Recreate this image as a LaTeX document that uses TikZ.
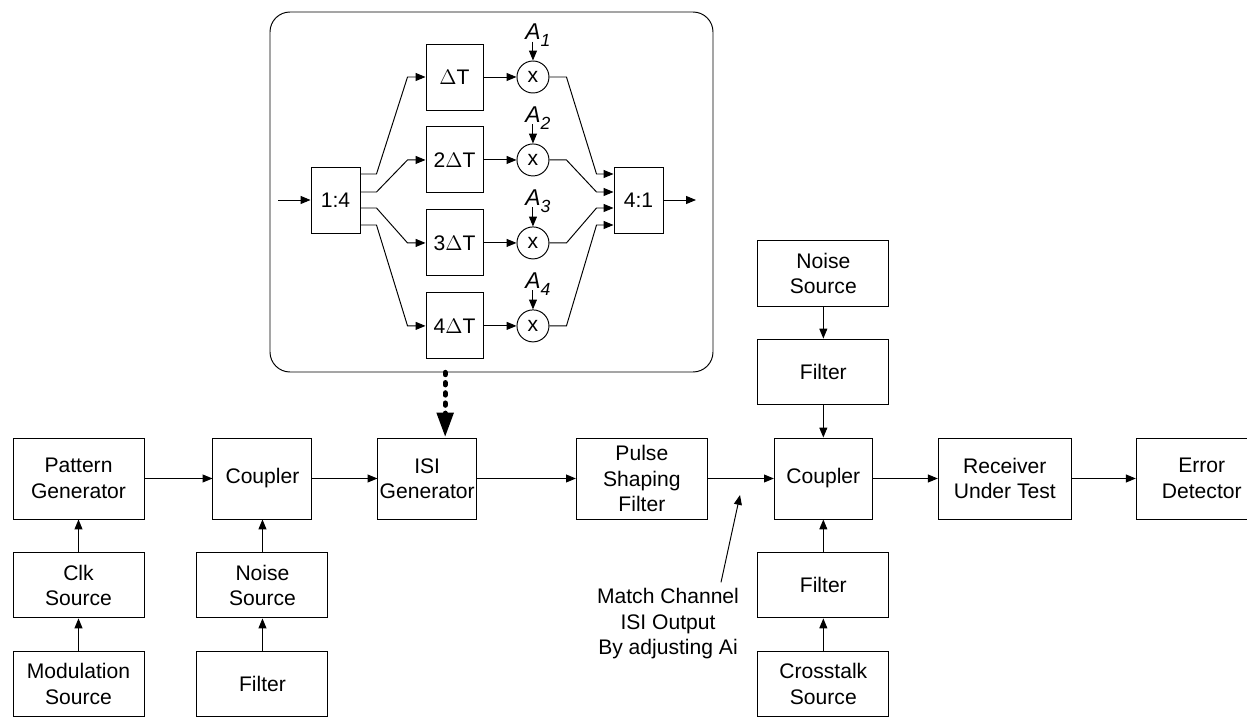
\documentclass[tikz,border=0pt]{standalone}
\usepackage{fontspec}
\setmainfont{Liberation Sans}
\usetikzlibrary{positioning,arrows.meta}

\begin{document}
\begin{tikzpicture}[font=\fontsize{12}{14.5}\selectfont, line width=0.55pt, align=center, node distance=0.65cm]
   \tikzset{arr/.style = {-{Triangle[length=5.6pt,width=4.5pt]}}, }
   \tikzset{dotarr/.style = {line width=3pt, line cap=round, dash pattern=on 1.2pt off 4.6pt, -{Triangle[length=0.5cm,width=0.32cm]}}, }
   \tikzset{block/.style = {rectangle, draw, text centered, minimum width=2.62cm, minimum height=1.62cm, inner sep=1pt}, }
   \tikzset{smallblock/.style = {block, minimum height=1.31cm}, }
   \tikzset{delay/.style = {rectangle, draw, minimum width=1.14cm, minimum height=1.32cm, inner sep=1pt}, }
   \tikzset{mux/.style = {delay, minimum width=0.98cm}, }
   \tikzset{mult/.style = {circle, draw, minimum size=0.64cm, inner sep=0pt}, }
   \tikzset{alabel/.style = {anchor=base west, inner sep=0pt, font=\fontsize{13}{15}\selectfont\itshape}, }
   \useasboundingbox (0,0) rectangle (24.94,-14.36);

   % ISI generator detail
   \node[draw, rounded corners=0.4cm, minimum width=8.86cm, minimum height=7.2cm, inner sep=0pt] (inset) at (9.83,-3.84) {};
   \node[mux] (split) at (6.71,-4.00) {1:4};
   \node[mux] (merge) at (12.77,-4.00) {4:1};
   \coordinate (in) at (5.56,-4.00);
   \coordinate (out) at (13.92,-4.00);
   \node[delay] (d1) at (9.09,-1.54) {$\Delta$T};
   \node[delay, below=0.32cm of d1] (d2) {2$\Delta$T};
   \node[delay, below=0.32cm of d2] (d3) {3$\Delta$T};
   \node[delay, below=0.32cm of d3] (d4) {4$\Delta$T};
   \foreach \i in {1,...,4} {
     \node[mult, right=0.66cm of d\i] (m\i) {x};
     \coordinate (t\i) at ([yshift=0.38cm]m\i.north);
     \node[alabel] (a\i) at ([xshift=-0.16cm,yshift=0.04cm]t\i) {A\raisebox{-4pt}{\fontsize{10}{12}\selectfont\i}};
     \draw[arr] (t\i) -- (m\i);
     \draw[arr] (d\i) -- (m\i);
   }
   \draw[arr] (in) -- (split);
   \draw[arr] (merge) -- (out);
   \draw[arr] ([yshift=0.52cm]split.east) -- ++(0.32,0) -- ([xshift=-0.36cm]d1.west) -- (d1.west);
   \draw[arr] ([yshift=0.16cm]split.east) -- ++(0.32,0) -- ([xshift=-0.36cm]d2.west) -- (d2.west);
   \draw[arr] ([yshift=-0.16cm]split.east) -- ++(0.32,0) -- ([xshift=-0.36cm]d3.west) -- (d3.west);
   \draw[arr] ([yshift=-0.50cm]split.east) -- ++(0.32,0) -- ([xshift=-0.36cm]d4.west) -- (d4.west);
   \draw[arr] (m1.east) -- ++(0.34,0) -- ([xshift=-0.34cm,yshift=0.52cm]merge.west) -- ([yshift=0.52cm]merge.west);
   \draw[arr] (m2.east) -- ++(0.34,0) -- ([xshift=-0.34cm,yshift=0.16cm]merge.west) -- ([yshift=0.16cm]merge.west);
   \draw[arr] (m3.east) -- ++(0.34,0) -- ([xshift=-0.34cm,yshift=-0.16cm]merge.west) -- ([yshift=-0.16cm]merge.west);
   \draw[arr] (m4.east) -- ++(0.34,0) -- ([xshift=-0.34cm,yshift=-0.50cm]merge.west) -- ([yshift=-0.50cm]merge.west);

   % main chain
   \node[block] (pg) at (1.57,-9.57) {Pattern\\Generator};
   \node[block, minimum width=1.98cm, right=1.36cm of pg] (cpl1) {Coupler};
   \node[block, minimum width=1.96cm, right=1.30cm of cpl1] (isi) {ISI\\Generator};
   \node[block, right=1.98cm of isi] (psf) {Pulse\\Shaping\\Filter};
   \node[block, minimum width=1.96cm, right=1.32cm of psf] (cpl2) {Coupler};
   \node[block, minimum width=2.66cm, right=1.30cm of cpl2] (rut) {Receiver\\Under Test};
   \node[block, right=1.28cm of rut] (ed) {Error\\Detector};

   \node[smallblock, below=of pg] (clk) {Clk\\Source};
   \node[smallblock, below=of clk] (mod) {Modulation\\Source};
   \node[smallblock, below=of cpl1] (noiseL) {Noise\\Source};
   \node[smallblock, below=of noiseL] (filtL) {Filter};
   \node[smallblock, above=of cpl2] (filtR1) {Filter};
   \node[smallblock, above=0.64cm of filtR1] (noiseR) {Noise\\Source};
   \node[smallblock, below=of cpl2] (filtR2) {Filter};
   \node[smallblock, below=of filtR2] (xtalk) {Crosstalk\\Source};

   \node (note) at (13.36,-12.48) {Match Channel\\ISI Output\\By adjusting Ai};
   \coordinate (tip) at (14.80,-9.90);

   \draw[arr] (pg) -- (cpl1);
   \draw[arr] (cpl1) -- (isi);
   \draw[arr] (isi) -- (psf);
   \draw[arr] (psf) -- (cpl2);
   \draw[arr] (cpl2) -- (rut);
   \draw[arr] (rut) -- (ed);
   \draw[arr] (clk) -- (pg);
   \draw[arr] (mod) -- (clk);
   \draw[arr] (noiseL) -- (cpl1);
   \draw[arr] (filtL) -- (noiseL);
   \draw[arr] (noiseR) -- (filtR1);
   \draw[arr] (filtR1) -- (cpl2);
   \draw[arr] (xtalk) -- (filtR2);
   \draw[arr] (filtR2) -- (cpl2);
   \draw[arr] ([xshift=1.06cm]note.north) -- (tip);

   % detail feeds the ISI generator
   \draw[dotarr] ([xshift=0.36cm]isi.north |- inset.south) -- ([xshift=0.36cm]isi.north);
\end{tikzpicture}
\end{document}
